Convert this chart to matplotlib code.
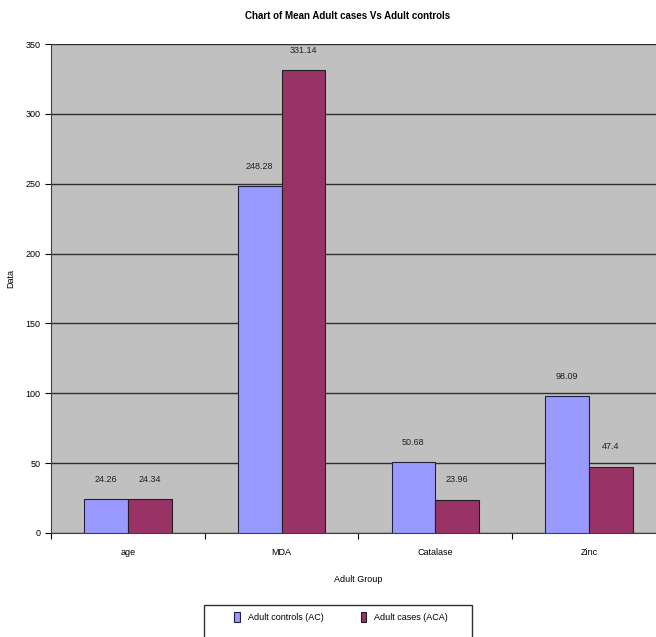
import matplotlib.pyplot as plt
from matplotlib.patches import Rectangle
import numpy as np

categories = ['age', 'MDA', 'Catalase', 'Zinc']
controls = [24.26, 248.28, 50.68, 98.09]
cases = [24.34, 331.14, 23.96, 47.4]
ctrl_labels = ['24.26', '248.28', '50.68', '98.09']
case_labels = ['24.34', '331.14', '23.96', '47.4']

plt.rcParams['font.family'] = ['Liberation Sans', 'DejaVu Sans']

fig = plt.figure(figsize=(6.56, 6.37), dpi=100)
ax = fig.add_axes([51/656, 104/637, 615/656, 489/637])
ax.set_facecolor('#C0C0C0')

x = np.arange(len(categories))
w = 0.285
b1 = ax.bar(x - w/2, controls, w, color='#9999FF', edgecolor='#202040', linewidth=0.8,
            label='Adult controls (AC)', zorder=3)
b2 = ax.bar(x + w/2, cases, w, color='#993366', edgecolor='#202020', linewidth=0.8,
            label='Adult cases (ACA)', zorder=3)

for rect, t in zip(b1, ctrl_labels):
    ax.text(rect.get_x() + rect.get_width()/2, rect.get_height() + 11, t,
            ha='center', va='bottom', fontsize=6.5, color='#222222')
for rect, t in zip(b2, case_labels):
    ax.text(rect.get_x() + rect.get_width()/2, rect.get_height() + 11, t,
            ha='center', va='bottom', fontsize=6.5, color='#222222')

ax.set_ylim(0, 350)
ax.set_xlim(-0.5, 3.5)
ax.set_yticks(range(0, 351, 50))
ax.yaxis.grid(True, color='#303030', linewidth=1.0, zorder=0)
ax.set_xticks(np.arange(-0.5, 3.6, 1))
ax.set_xticklabels([])
ax.set_xticks(x, minor=True)
ax.set_xticklabels(categories, minor=True)
ax.tick_params(axis='x', which='minor', length=0, pad=11, labelsize=6.5)
ax.tick_params(axis='x', which='major', length=4, direction='out')
ax.tick_params(axis='y', labelsize=6.5, length=4)
for s in ['top', 'right']:
    ax.spines[s].set_visible(False)
ax.spines['left'].set_color('#404040')
ax.spines['bottom'].set_color('#404040')

ax.set_xlabel('Adult Group', fontsize=6.5, labelpad=13)
ax.set_ylabel('Data', fontsize=6.5)
ax.yaxis.set_label_coords(-0.058, 0.52)
fig.text(348/656, 1 - 16/637, 'Chart of Mean Adult cases Vs Adult controls', ha='center', va='center',
         fontsize=7, fontweight='bold')

# legend box runs off the bottom edge like in the original
fig.patches.append(Rectangle((204/656, -0.02), 268/656, 0.02 + 32/637, transform=fig.transFigure,
                             facecolor='white', edgecolor='#303030', linewidth=1.0, zorder=1))
leg = fig.legend(loc='center', bbox_to_anchor=(341/656, 1 - 617/637), ncol=2, fontsize=6.5,
                 frameon=False, handlelength=0.6, handleheight=1.3, handletextpad=0.9,
                 columnspacing=4.1, borderpad=0, borderaxespad=0)
leg.set_zorder(2)

fig.savefig('out.png', dpi=100)
